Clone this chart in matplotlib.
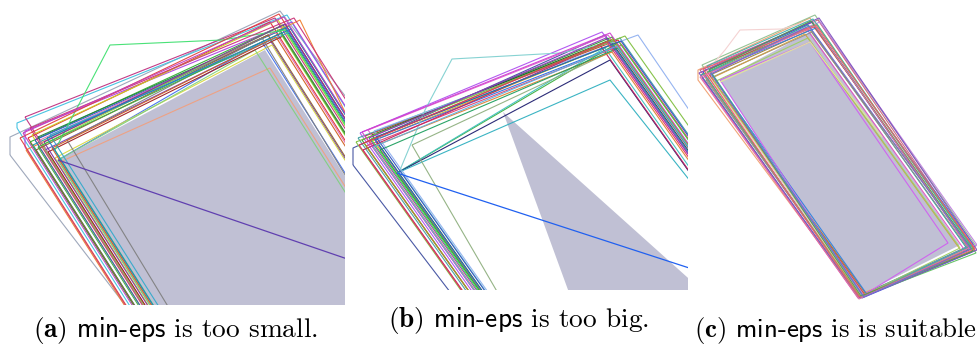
import matplotlib
matplotlib.use("Agg")
import matplotlib.pyplot as plt
from matplotlib.patches import Polygon

plt.rcParams['mathtext.fontset'] = 'cm'
plt.rcParams['font.family'] = ['cmr10', 'DejaVu Serif']

# polygon vertices in image pixels (y grows downwards), one list per panel
shade_a = [(58, 160), (265, 50), (449, 340), (242, 450)]
diag_a = [(58, 160), (400, 277)]
polys_a = [
    [(10, 155), (10, 137), (280, 11), (510, 311), (240, 455)],
    [(17, 128), (17, 123), (287, 15), (547, 425), (277, 538)],
    [(25, 117), (275, 18), (535, 428), (285, 527)],
    [(25, 147), (25, 131), (292, 22), (552, 432), (285, 557)],
    [(28, 138), (270, 22), (530, 432), (288, 548)],
    [(30, 142), (283, 25), (543, 435), (290, 552)],
    [(32, 135), (278, 20), (538, 430), (292, 545)],
    [(26, 150), (300, 20), (500, 430), (286, 560)],
    [(35, 140), (286, 28), (546, 438), (295, 550)],
    [(38, 137), (280, 30), (540, 440), (298, 547)],
    [(33, 145), (289, 26), (549, 436), (293, 555)],
    [(40, 140), (275, 32), (535, 442), (300, 550)],
    [(45, 150), (270, 40), (530, 450), (305, 560)],
    [(58, 160), (262, 42), (522, 452), (318, 570)],
    [(55, 158), (272, 45), (532, 455), (315, 568)],
    [(60, 162), (270, 68), (530, 478), (320, 572)],
    [(58, 160), (255, 50), (515, 460), (318, 570)],
    [(48, 152), (283, 36), (543, 446), (308, 562)],
    [(42, 145), (277, 28), (537, 438), (302, 555)],
    [(36, 150), (268, 35), (528, 445), (296, 560)],
    [(55, 150), (110, 45), (222, 40), (285, 30), (545, 440), (315, 560)],
    [(67, 140), (262, 38), (512, 450), (317, 552)],
    [(30, 128), (294, 18), (554, 428), (290, 538)],
    [(50, 135), (290, 32), (550, 442), (310, 545)],
    [(20, 138), (279, 14), (539, 424), (280, 548)],
    [(44, 142), (285, 24), (545, 434), (304, 552)],
    [(38, 147), (281, 33), (541, 443), (298, 557)],
    [(52, 148), (276, 37), (536, 447), (312, 558)],
    [(47, 138), (291, 29), (551, 439), (307, 548)],
    [(23, 133), (284, 17), (544, 427), (283, 543)],
]

shade_b = [(503, 112), (590, 350), (755, 338)]
diag_b = [(397, 173), (720, 278)]
polys_b = [
    [(353, 165), (353, 148), (605, 35), (905, 459), (729, 657)],
    [(360, 133), (602, 32), (902, 456), (660, 557)],
    [(362, 140), (612, 37), (912, 461), (662, 564)],
    [(365, 136), (618, 40), (918, 464), (665, 560)],
    [(368, 130), (608, 35), (908, 459), (668, 554)],
    [(370, 142), (615, 43), (915, 467), (670, 566)],
    [(358, 138), (620, 38), (920, 462), (658, 562)],
    [(372, 135), (610, 40), (910, 464), (672, 559)],
    [(366, 146), (622, 45), (922, 469), (666, 570)],
    [(375, 140), (614, 47), (914, 471), (675, 564)],
    [(397, 173), (616, 44), (916, 468), (697, 597)],
    [(397, 173), (605, 48), (905, 472), (697, 597)],
    [(397, 173), (610, 60), (910, 484), (697, 597)],
    [(397, 173), (610, 80), (910, 458), (697, 597)],
    [(374, 131), (638, 35), (938, 475), (674, 555)],
    [(412, 145), (615, 50), (915, 474), (661, 574)],
    [(400, 170), (425, 110), (452, 59), (560, 53), (615, 42), (915, 466), (700, 594)],
    [(363, 150), (600, 45), (900, 469), (663, 574)],
    [(356, 142), (625, 36), (925, 460), (656, 566)],
    [(369, 138), (606, 38), (906, 462), (669, 562)],
    [(377, 145), (612, 52), (912, 476), (677, 569)],
    [(380, 150), (618, 48), (918, 472), (680, 574)],
    [(362, 132), (610, 33), (910, 457), (662, 556)],
    [(371, 139), (619, 42), (919, 466), (671, 563)],
    [(364, 143), (613, 39), (913, 463), (664, 567)],
    [(376, 137), (621, 41), (921, 465), (676, 561)],
    [(359, 145), (607, 42), (907, 466), (659, 569)],
    [(373, 147), (617, 46), (917, 470), (673, 571)],
]

shade_c = [(720, 80), (810, 32), (960, 245), (860, 295)]
diag_c = [(720, 82), (810, 42), (882, 137)]
polys_c = [
    [(698, 80), (698, 70), (810, 18), (970, 250), (858, 295)],
    [(702, 65), (815, 15), (976, 246), (862, 297)],
    [(700, 70), (818, 20), (975, 250), (860, 296)],
    [(703, 72), (812, 22), (972, 252), (862, 298)],
    [(705, 68), (820, 22), (977, 245), (864, 296)],
    [(701, 75), (808, 25), (968, 250), (858, 297)],
    [(706, 70), (814, 27), (974, 248), (865, 295)],
    [(704, 74), (817, 24), (976, 253), (861, 297)],
    [(708, 76), (810, 30), (970, 246), (866, 294)],
    [(702, 78), (806, 28), (966, 252), (858, 298)],
    [(710, 72), (816, 28), (973, 244), (866, 293)],
    [(706, 80), (812, 32), (967, 247), (862, 297)],
    [(712, 78), (805, 34), (962, 252), (860, 296)],
    [(714, 82), (808, 38), (960, 248), (862, 296)],
    [(720, 80), (810, 42), (948, 243), (862, 296)],
    [(706, 72), (725, 50), (740, 30), (782, 29), (813, 20), (972, 250), (862, 297)],
    [(699, 73), (819, 18), (977, 250), (860, 298)],
    [(707, 66), (813, 19), (971, 246), (863, 296)],
    [(703, 69), (816, 25), (975, 249), (859, 297)],
    [(709, 70), (811, 21), (973, 251), (861, 296)],
    [(700, 77), (815, 26), (969, 248), (859, 299)],
    [(711, 74), (809, 26), (971, 249), (864, 297)],
]

colors_a = ['#9aa4b8', '#40c0e0', '#c03080', '#b040e0', '#e03030', '#30b030',
            '#c8d020', '#f08030', '#3050d0', '#208040', '#20a0a0', '#e070b0',
            '#7040c0', '#4070f0', '#d8d840', '#f0a080', '#80d080', '#a02020',
            '#90e040', '#906030', '#40e070', '#808080', '#cc3377', '#33aacc',
            '#e04040', '#8030a0', '#40b040', '#d06020', '#2080c0', '#c040c0']
colors_b = ['#4050a0', '#b050f0', '#30a030', '#e02020', '#e060d0', '#f0a020',
            '#40a0a0', '#206020', '#e04070', '#3070e0', '#40b040', '#40c0c0',
            '#202070', '#30b0c0', '#90b0f0', '#90b080', '#80d0d0', '#c02060',
            '#80c040', '#9030c0', '#e08030', '#20a060', '#d040d0', '#40e040',
            '#a0a020', '#3050c0', '#e03060', '#60b0e0']
colors_c = ['#f0a070', '#90c090', '#d06080', '#4040e0', '#c080e0', '#20a0a0',
            '#e04040', '#60c060', '#a08040', '#e050c0', '#3080e0', '#909090',
            '#d0a040', '#a0d060', '#d060f0', '#f4d0d0', '#8050c0', '#40b0b0',
            '#f06060', '#50a050', '#e070a0', '#7070d0']

captions = [r"$\mathbf{(a)}$ $\mathsf{min}$-$\mathsf{eps}$ is too small.",
            r"$\mathbf{(b)}$ $\mathsf{min}$-$\mathsf{eps}$ is too big.",
            r"$\mathbf{(c)}$ $\mathsf{min}$-$\mathsf{eps}$ is is suitable"]

W, H = 977, 347
fig = plt.figure(figsize=(W / 100, H / 100), dpi=100)

panels = [
    ((0, 345), (305, 0), shade_a, diag_a, polys_a, colors_a, '#6040b0'),
    ((350, 688), (290, 30), shade_b, diag_b, polys_b, colors_b, '#2060f0'),
    ((690, 977), (305, 0), shade_c, diag_c, polys_c, colors_c, '#e0e0a0'),
]

for (xl, yl, shade, diag, polys, cols, diag_color) in panels:
    ax = fig.add_axes([xl[0] / W, (H - yl[0]) / H, (xl[1] - xl[0]) / W, (yl[0] - yl[1]) / H])
    ax.set_xlim(*xl)
    ax.set_ylim(*yl)
    ax.axis('off')
    ax.add_patch(Polygon(shade, closed=True, facecolor='#c0c0d4', edgecolor='none'))
    for i, p in enumerate(polys):
        ax.add_patch(Polygon(p, closed=True, fill=False, lw=0.8, alpha=0.95,
                             edgecolor=cols[i % len(cols)]))
    ax.add_patch(Polygon(diag, closed=False, fill=False, lw=0.9, edgecolor=diag_color))

cap_pos = [(33, 337, 19.7), (388, 327, 19.7), (694, 337, 19.3)]
for (x, y, fs), txt in zip(cap_pos, captions):
    fig.text(x / W, 1 - y / H, txt, fontsize=fs, ha='left', va='baseline')

fig.savefig('out.png', dpi=100)
